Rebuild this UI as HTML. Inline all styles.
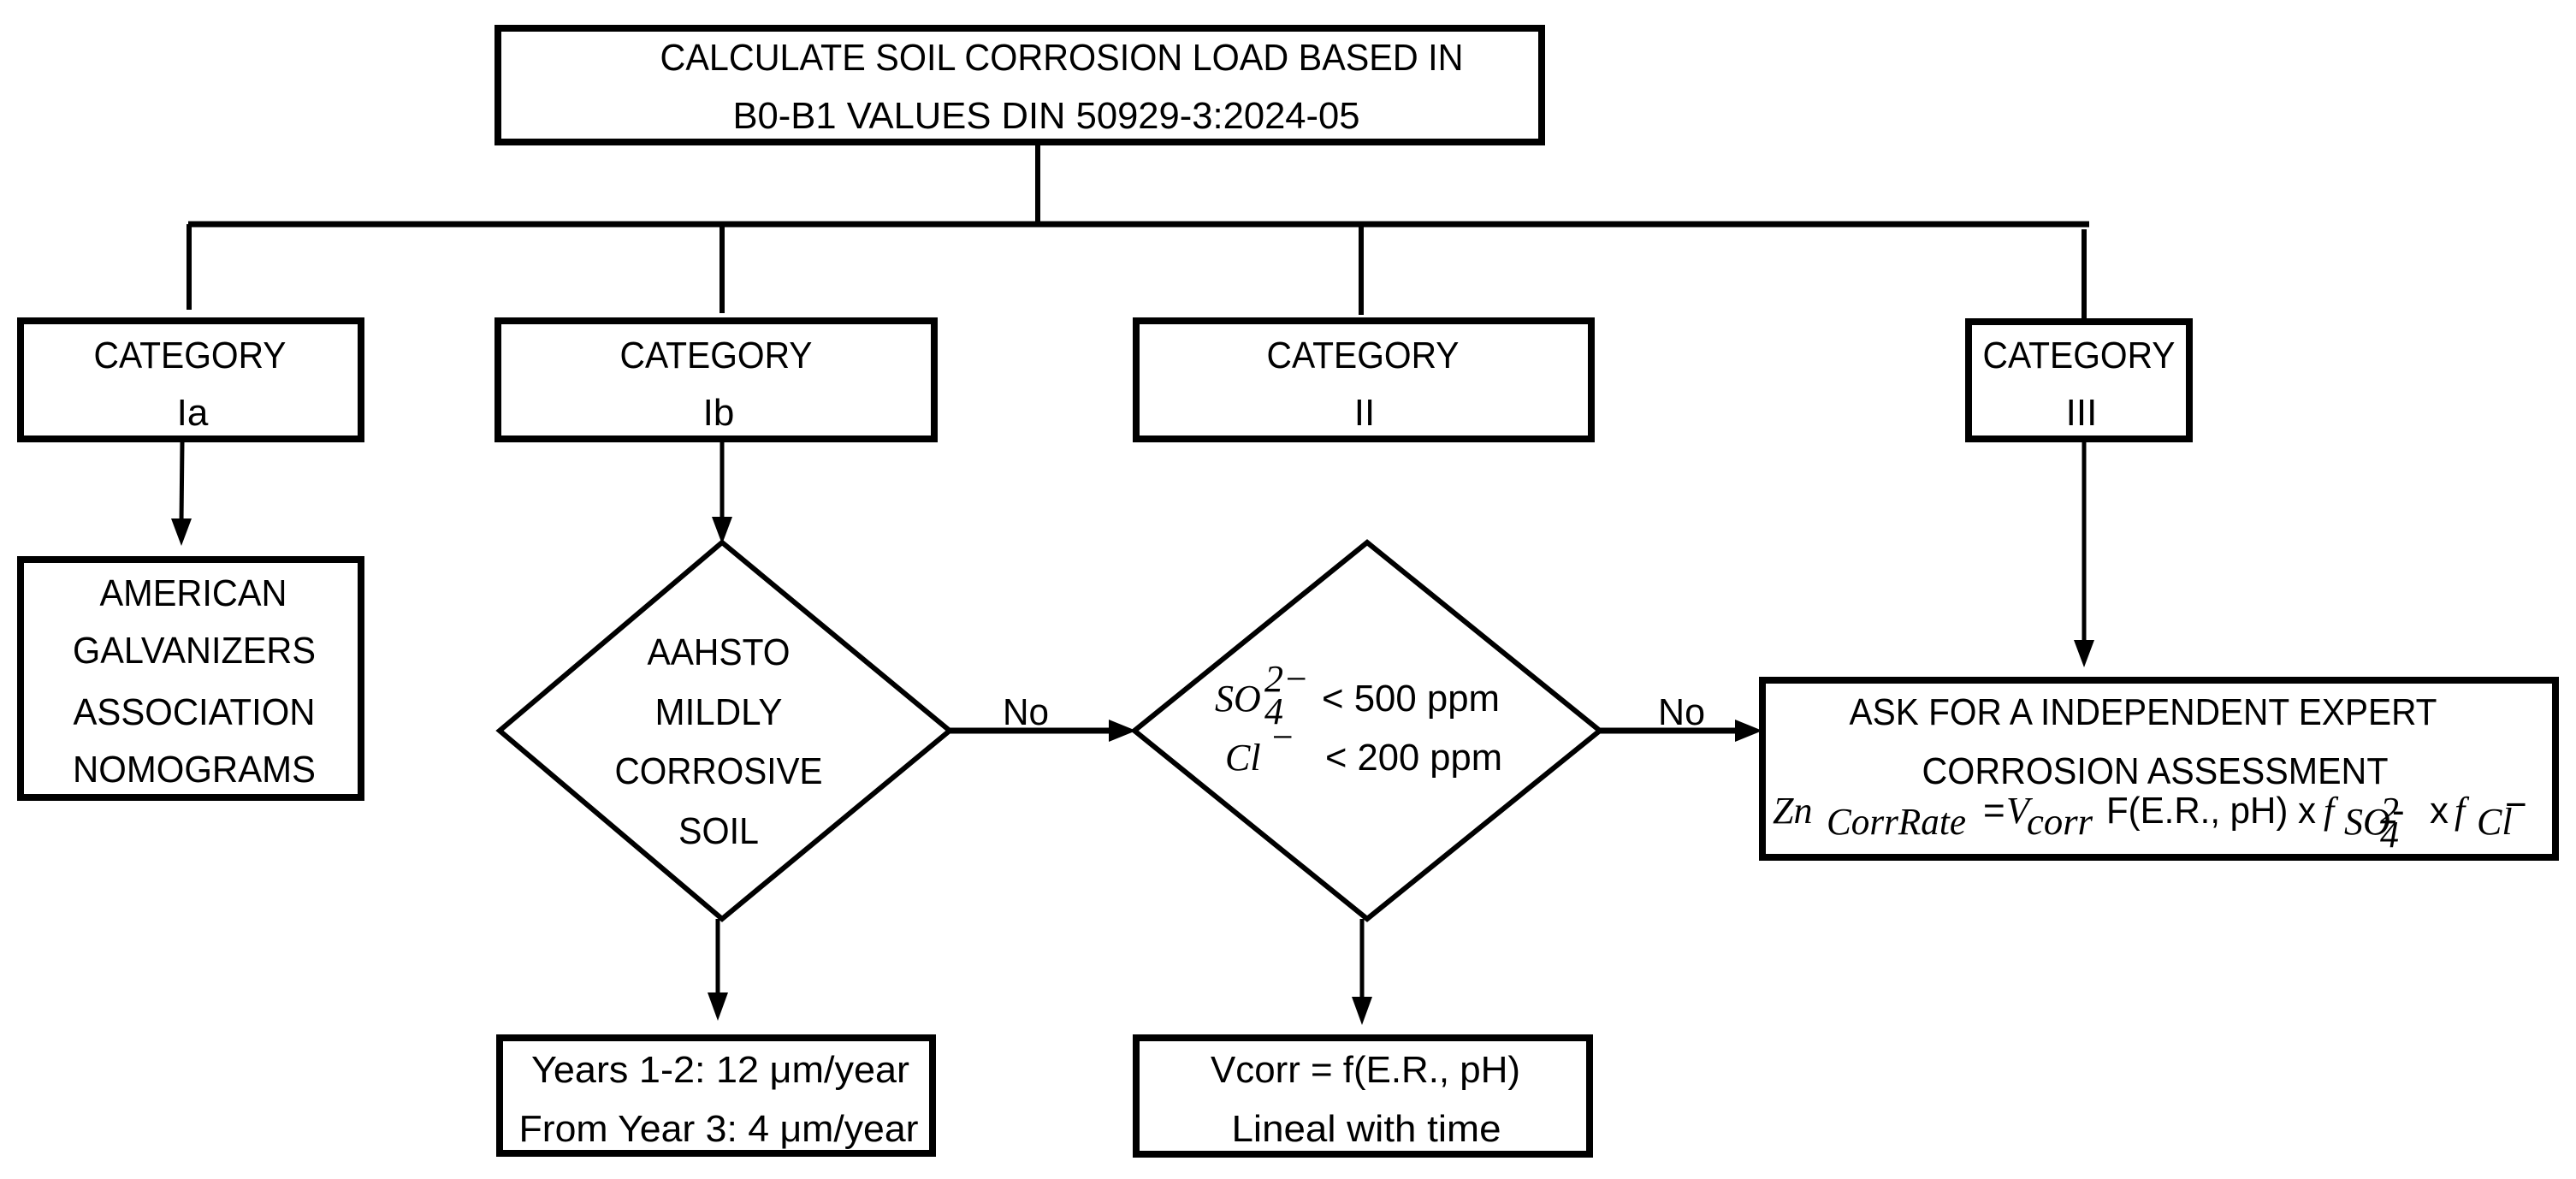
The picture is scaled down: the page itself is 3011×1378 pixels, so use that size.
<!DOCTYPE html>
<html><head><meta charset="utf-8"><style>
html,body{margin:0;padding:0;background:#fff;}
svg{display:block;}
text{font-family:"Liberation Sans",sans-serif;font-size:44px;fill:#000;}
.m{font-family:"Liberation Serif",serif;font-style:italic;}
</style></head><body>
<svg width="3011" height="1378" viewBox="0 0 3011 1378" xmlns="http://www.w3.org/2000/svg">
<g fill="none" stroke="#000">
<!-- boxes -->
<rect x="582" y="33" width="1220" height="133" stroke-width="8"/>
<rect x="24" y="375" width="398" height="138" stroke-width="8"/>
<rect x="582" y="375" width="510" height="138" stroke-width="8"/>
<rect x="1328" y="375" width="532" height="138" stroke-width="8"/>
<rect x="2301" y="376" width="258" height="137" stroke-width="8"/>
<rect x="24" y="654" width="398" height="278" stroke-width="8"/>
<rect x="584" y="1213" width="506" height="135" stroke-width="8"/>
<rect x="1328" y="1213" width="530" height="136" stroke-width="8"/>
<rect x="2060" y="795" width="927" height="207" stroke-width="8"/>
<!-- diamonds -->
<polygon points="844,634 1110,854 844,1074 584,854" stroke-width="6"/>
<polygon points="1598,634 1870,854 1598,1074 1326,854" stroke-width="6"/>
<!-- connectors -->
<line x1="1213" y1="170" x2="1213" y2="263" stroke-width="6"/>
<line x1="220" y1="262" x2="2442" y2="262" stroke-width="7"/>
<line x1="221" y1="262" x2="221" y2="362" stroke-width="6"/>
<line x1="844" y1="262" x2="844" y2="366" stroke-width="6"/>
<line x1="1591" y1="262" x2="1591" y2="368" stroke-width="6"/>
<line x1="2436" y1="268" x2="2436" y2="372" stroke-width="6"/>
<line x1="213" y1="517" x2="212" y2="610" stroke-width="5"/>
<line x1="844" y1="517" x2="844" y2="608" stroke-width="5"/>
<line x1="2436" y1="517" x2="2436" y2="752" stroke-width="5"/>
<line x1="839" y1="1074" x2="839" y2="1165" stroke-width="5"/>
<line x1="1592" y1="1074" x2="1592" y2="1170" stroke-width="5"/>
<line x1="1110" y1="854" x2="1300" y2="854" stroke-width="7"/>
<line x1="1870" y1="854" x2="2032" y2="854" stroke-width="7"/>
</g>
<g fill="#000">
<polygon points="200,606 224,606 212,638"/>
<polygon points="832,604 856,604 844,636"/>
<polygon points="2424,748 2448,748 2436,780"/>
<polygon points="827,1160 851,1160 839,1193"/>
<polygon points="1580,1165 1604,1165 1592,1198"/>
<polygon points="1296,841 1296,867 1328,854"/>
<polygon points="2028,841 2028,867 2060,854"/>
</g>
<g text-anchor="middle">
<text x="1241" y="82" textLength="939" lengthAdjust="spacingAndGlyphs">CALCULATE SOIL CORROSION LOAD BASED IN</text>
<text x="1223" y="150" textLength="733" lengthAdjust="spacingAndGlyphs">B0-B1 VALUES DIN 50929-3:2024-05</text>
<text x="222" y="430" textLength="225" lengthAdjust="spacingAndGlyphs">CATEGORY</text>
<text x="225" y="497">Ia</text>
<text x="837" y="430" textLength="225" lengthAdjust="spacingAndGlyphs">CATEGORY</text>
<text x="840" y="497">Ib</text>
<text x="1593" y="430" textLength="225" lengthAdjust="spacingAndGlyphs">CATEGORY</text>
<text x="1595" y="497">II</text>
<text x="2430" y="430" textLength="225" lengthAdjust="spacingAndGlyphs">CATEGORY</text>
<text x="2433" y="497">III</text>
<text x="226" y="708" textLength="219" lengthAdjust="spacingAndGlyphs">AMERICAN</text>
<text x="227" y="775" textLength="284" lengthAdjust="spacingAndGlyphs">GALVANIZERS</text>
<text x="227" y="847" textLength="283" lengthAdjust="spacingAndGlyphs">ASSOCIATION</text>
<text x="227" y="914" textLength="284" lengthAdjust="spacingAndGlyphs">NOMOGRAMS</text>
<text x="840" y="777" textLength="167" lengthAdjust="spacingAndGlyphs">AAHSTO</text>
<text x="840" y="847" textLength="149" lengthAdjust="spacingAndGlyphs">MILDLY</text>
<text x="840" y="916" textLength="243" lengthAdjust="spacingAndGlyphs">CORROSIVE</text>
<text x="840" y="986" textLength="94" lengthAdjust="spacingAndGlyphs">SOIL</text>
<text x="842" y="1265" textLength="442" lengthAdjust="spacingAndGlyphs">Years 1-2: 12 μm/year</text>
<text x="840" y="1334" textLength="467" lengthAdjust="spacingAndGlyphs">From Year 3: 4 μm/year</text>
<text x="1596" y="1265" textLength="362" lengthAdjust="spacingAndGlyphs">Vcorr = f(E.R., pH)</text>
<text x="1597" y="1334" textLength="315" lengthAdjust="spacingAndGlyphs">Lineal with time</text>
<text x="2505" y="847" textLength="687" lengthAdjust="spacingAndGlyphs">ASK FOR A INDEPENDENT EXPERT</text>
<text x="2519" y="916" textLength="545" lengthAdjust="spacingAndGlyphs">CORROSION ASSESSMENT</text>
</g>
<text x="1172" y="847" textLength="54" lengthAdjust="spacingAndGlyphs">No</text>
<text x="1938" y="847" textLength="55" lengthAdjust="spacingAndGlyphs">No</text>
<!-- diamond II formulas -->
<text class="m" x="1420" y="831" font-size="46">SO</text>
<text class="m" x="1478" y="846" font-size="30">4</text>
<text class="m" x="1478" y="808" font-size="30">2−</text>
<text x="1545" y="831" textLength="208" lengthAdjust="spacingAndGlyphs">&lt; 500 ppm</text>
<text class="m" x="1432" y="900" font-size="46">Cl</text>
<text class="m" x="1484" y="876" font-size="30">−</text>
<text x="1549" y="900" textLength="207" lengthAdjust="spacingAndGlyphs">&lt; 200 ppm</text>
<!-- expert formula -->
<text class="m" x="2072" y="962" font-size="50">Zn</text>
<text class="m" x="2135" y="975" font-size="34" textLength="163" lengthAdjust="spacingAndGlyphs">CorrRate</text>
<text x="2318" y="962" font-size="40">=</text>
<text class="m" x="2345" y="962" font-size="50">V</text>
<text class="m" x="2369" y="975" font-size="34" textLength="77" lengthAdjust="spacingAndGlyphs">corr</text>
<text x="2462" y="962" textLength="245" lengthAdjust="spacingAndGlyphs">F(E.R., pH) x</text>
<text class="m" x="2716" y="962" font-size="50">f</text>
<text class="m" x="2740" y="975" font-size="30">SO</text>
<text class="m" x="2782" y="990" font-size="22">4</text>
<text class="m" x="2782" y="962" font-size="22">2</text>
<text x="2796" y="962" font-size="34">-</text>
<text x="2840" y="962" font-size="40">x</text>
<text class="m" x="2869" y="962" font-size="50">f</text>
<text class="m" x="2895" y="975" font-size="30">Cl</text>
<text x="2928" y="955" font-size="30">−</text>
</svg>
</body></html>
